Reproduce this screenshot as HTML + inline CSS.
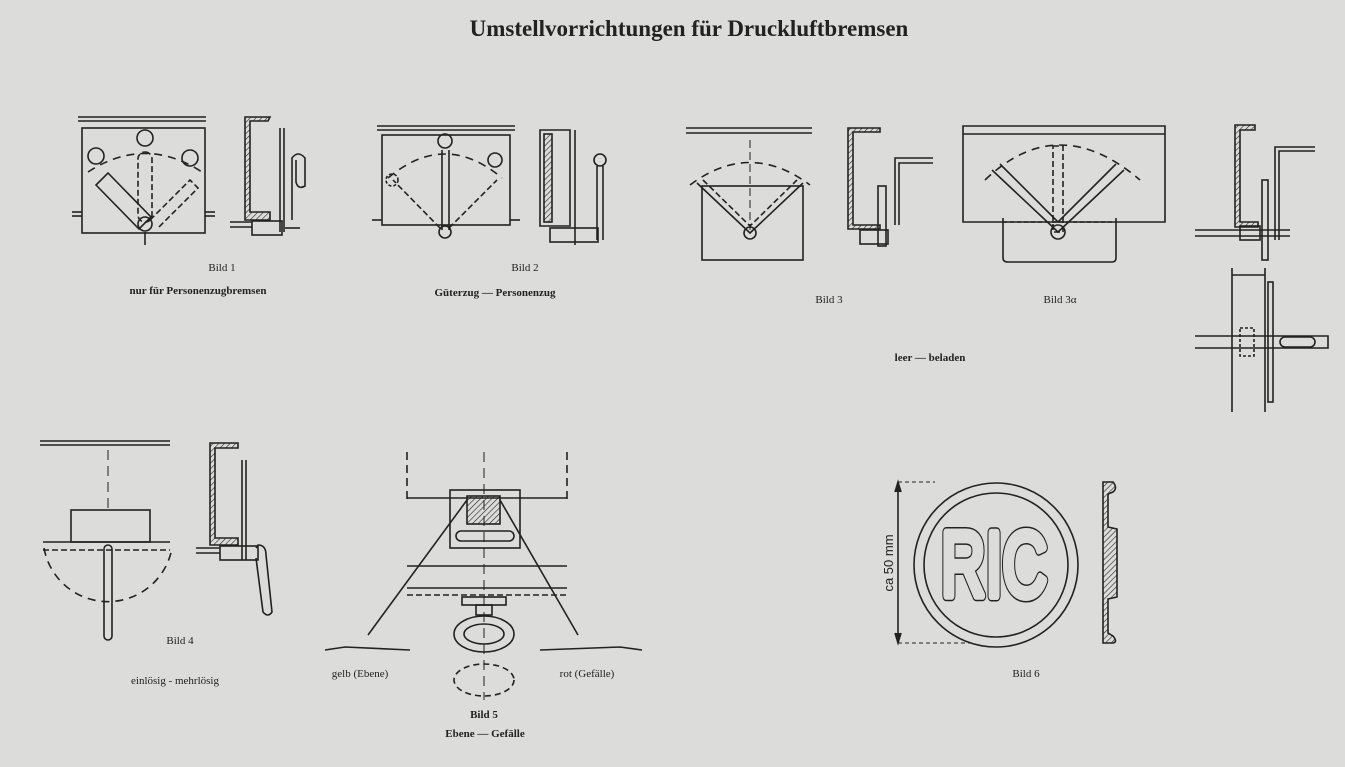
<!DOCTYPE html>
<html><head><meta charset="utf-8"><style>
html,body{margin:0;padding:0;background:#dcdcda;}
svg{display:block}
.t{font-family:"Liberation Serif",serif;fill:#222}
</style></head><body>
<svg width="1345" height="767" viewBox="0 0 1345 767" xmlns="http://www.w3.org/2000/svg">
<defs>
<pattern id="h" width="4" height="4" patternUnits="userSpaceOnUse" patternTransform="rotate(45)"><line x1="0" y1="0" x2="0" y2="4" stroke="#222" stroke-width="1.2"/></pattern>
</defs>
<rect width="1345" height="767" fill="#dcdcda"/>
<text x="689" y="36" text-anchor="middle" class="t" font-size="23" font-weight="bold">Umstellvorrichtungen für Druckluftbremsen</text>
<g stroke="#222" stroke-width="1.6" fill="none">
<!-- Bild 1 -->
<line x1="78" y1="117" x2="206" y2="117"/><line x1="78" y1="121" x2="206" y2="121"/>
<rect x="82" y="128" width="123" height="105"/>
<line x1="72" y1="212" x2="82" y2="212"/><line x1="72" y1="216" x2="82" y2="216"/>
<line x1="205" y1="212" x2="215" y2="212"/><line x1="205" y1="216" x2="215" y2="216"/>
<path d="M96 185 L139 229 L151 217 L108 173 Z"/>
<circle cx="145" cy="224" r="7"/><line x1="145" y1="232" x2="145" y2="245"/>
<rect x="138" y="152" width="14" height="70" rx="7" stroke-dasharray="6 3"/>
<path d="M150 220 L190 180 L198 188 L158 228" stroke-dasharray="6 3"/>
<path d="M88 172 Q145 135 202 172" stroke-dasharray="8 6"/>
<circle cx="96" cy="156" r="8"/><circle cx="145" cy="138" r="8"/><circle cx="190" cy="158" r="8"/>
<path d="M245 117 L270 117 L268 121 L250 121 L250 212 L270 212 L270 220 L245 220 Z" fill="url(#h)"/>
<line x1="280" y1="128" x2="280" y2="232"/><line x1="284" y1="128" x2="284" y2="232"/>
<path d="M292 220 L292 158 Q298 150 305 158 L305 186 Q298 190 296 182 L296 160"/>
<rect x="252" y="221" width="30" height="14"/>
<line x1="230" y1="222" x2="252" y2="222"/><line x1="230" y1="227" x2="252" y2="227"/>
<line x1="285" y1="228" x2="300" y2="228"/>
<!-- Bild 2 -->
<line x1="377" y1="126" x2="515" y2="126"/><line x1="377" y1="130" x2="515" y2="130"/>
<rect x="382" y="135" width="128" height="90"/>
<line x1="372" y1="220" x2="382" y2="220"/><line x1="510" y1="220" x2="520" y2="220"/>
<line x1="442" y1="150" x2="442" y2="230"/><line x1="449" y1="150" x2="449" y2="230"/>
<circle cx="445" cy="232" r="6"/><circle cx="445" cy="141" r="7"/>
<path d="M440 228 L393 180 M449 228 L497 180" stroke-dasharray="6 3"/>
<path d="M388 178 Q445 130 502 178" stroke-dasharray="8 6"/>
<circle cx="495" cy="160" r="7"/><circle cx="392" cy="180" r="6" stroke-dasharray="3 2"/>
<path d="M540 130 L570 130 L570 226 L540 226 Z"/><rect x="544" y="134" width="8" height="88" fill="url(#h)"/>
<line x1="575" y1="130" x2="575" y2="245"/>
<line x1="597" y1="166" x2="597" y2="240"/><line x1="603" y1="166" x2="603" y2="240"/>
<circle cx="600" cy="160" r="6"/>
<rect x="550" y="228" width="48" height="14"/>
<!-- Bild 3 -->
<line x1="686" y1="128" x2="812" y2="128"/><line x1="686" y1="133" x2="812" y2="133"/>
<rect x="702" y="186" width="101" height="74"/>
<path d="M697 183 L750 233 L803 183"/><path d="M703 180 L750 226 L797 180" stroke-dasharray="6 3"/>
<circle cx="750" cy="233" r="6"/>
<path d="M690 185 Q750 140 810 185" stroke-dasharray="8 6"/>
<line x1="750" y1="140" x2="750" y2="230" stroke-dasharray="8 4" stroke-width="1"/>
<path d="M848 128 L880 128 L880 132 L853 132 L853 225 L880 225 L880 229 L848 229 Z" fill="url(#h)"/>
<path d="M895 225 L895 158 L933 158 M899 225 L899 163 L933 163"/>
<rect x="878" y="186" width="8" height="60"/>
<rect x="860" y="230" width="28" height="14"/>
<!-- Bild 3a -->
<path d="M963 126 L1165 126 L1165 222 L963 222 Z"/>
<line x1="963" y1="134" x2="1165" y2="134"/>
<path d="M1003 218 L1003 258 Q1003 262 1008 262 L1112 262 Q1116 262 1116 258 L1116 218"/>
<line x1="1003" y1="222" x2="1116" y2="222" stroke-dasharray="4 3"/>
<path d="M992 170 L1058 232 L1124 170 M1000 164 L1058 222 L1116 164"/>
<circle cx="1058" cy="232" r="7"/>
<path d="M985 180 Q1058 110 1140 180" stroke-dasharray="8 6"/>
<rect x="1053" y="146" width="10" height="86" stroke-dasharray="6 3"/>
<path d="M1235 125 L1255 125 L1255 130 L1240 130 L1240 222 L1258 222 L1258 227 L1235 227 Z" fill="url(#h)"/>
<path d="M1275 240 L1275 147 L1315 147 M1279 240 L1279 151 L1315 151"/>
<rect x="1262" y="180" width="6" height="80"/>
<path d="M1195 230 L1290 230 M1195 236 L1290 236"/><rect x="1240" y="226" width="20" height="14"/>
<path d="M1232 268 L1232 412 M1265 268 L1265 412"/><line x1="1232" y1="275" x2="1265" y2="275"/>
<rect x="1268" y="282" width="5" height="120"/>
<path d="M1195 336 L1328 336 L1328 348 L1195 348"/><rect x="1240" y="328" width="14" height="28" stroke-dasharray="3 2"/>
<rect x="1280" y="337" width="35" height="10" rx="5"/>
<!-- Bild 4 -->
<line x1="40" y1="441" x2="170" y2="441"/><line x1="40" y1="445" x2="170" y2="445"/>
<line x1="108" y1="450" x2="108" y2="510" stroke-dasharray="10 6" stroke-width="1"/>
<rect x="71" y="510" width="79" height="32"/>
<line x1="43" y1="542" x2="170" y2="542"/><line x1="43" y1="550" x2="170" y2="550" stroke-dasharray="6 3"/>
<path d="M44 548 A65 65 0 0 0 172 548" stroke-dasharray="8 6"/>
<rect x="104" y="545" width="8" height="95" rx="4"/>
<path d="M210 443 L238 443 L238 448 L215 448 L215 538 L238 538 L238 545 L210 545 Z" fill="url(#h)"/>
<line x1="242" y1="460" x2="242" y2="560"/><line x1="246" y1="460" x2="246" y2="560"/>
<rect x="220" y="546" width="38" height="14"/>
<path d="M256 548 L258 545 Q266 545 266 555 L272 612 Q268 618 263 612 L256 558"/>
<line x1="196" y1="548" x2="220" y2="548"/><line x1="196" y1="553" x2="220" y2="553"/>
<!-- Bild 5 -->
<line x1="407" y1="452" x2="407" y2="500" stroke-dasharray="8 5"/><line x1="567" y1="452" x2="567" y2="500" stroke-dasharray="8 5"/>
<line x1="484" y1="452" x2="484" y2="700" stroke-dasharray="10 6" stroke-width="1"/>
<line x1="407" y1="498" x2="567" y2="498"/>
<rect x="450" y="490" width="70" height="58"/>
<rect x="467" y="496" width="33" height="28" fill="url(#h)"/>
<rect x="456" y="531" width="58" height="10" rx="5"/>
<line x1="368" y1="635" x2="467" y2="500"/><line x1="578" y1="635" x2="500" y2="500"/>
<line x1="407" y1="566" x2="567" y2="566"/><line x1="407" y1="588" x2="567" y2="588"/><line x1="407" y1="595" x2="567" y2="595" stroke-dasharray="6 3"/>
<rect x="462" y="597" width="44" height="8"/><rect x="476" y="605" width="16" height="10"/>
<ellipse cx="484" cy="634" rx="30" ry="18"/><ellipse cx="484" cy="634" rx="20" ry="10"/>
<ellipse cx="484" cy="680" rx="30" ry="16" stroke-dasharray="6 4"/>
<path d="M325 650 L345 647 L410 650 M540 650 L620 647 L642 650"/>
<!-- Bild 6 -->
<circle cx="996" cy="565" r="82"/><circle cx="996" cy="565" r="72"/>
<path d="M898 482 L935 482 M898 643 L970 643" stroke-dasharray="4 3" stroke-width="1"/>
<line x1="898" y1="484" x2="898" y2="641"/>
<path d="M895 492 L898 482 L901 492 M895 633 L898 643 L901 633" fill="#222"/>
<path d="M1103 482 L1113 482 Q1118 488 1113 492 L1108 494 L1108 527 L1117 529 L1117 597 L1108 599 L1108 633 L1113 636 Q1118 642 1113 643 L1103 643 Z" fill="url(#h)"/>
</g>
<text x="941" y="596" textLength="106" lengthAdjust="spacingAndGlyphs" font-family="Liberation Sans,sans-serif" font-size="92" fill="#222" stroke="#222" stroke-width="11" stroke-linejoin="round">RIC</text>
<text x="941" y="596" textLength="106" lengthAdjust="spacingAndGlyphs" font-family="Liberation Sans,sans-serif" font-size="92" fill="#dcdcda" stroke="#dcdcda" stroke-width="8" stroke-linejoin="round">RIC</text>
<text transform="translate(893,563) rotate(-90)" text-anchor="middle" font-family="Liberation Sans,sans-serif" font-size="13" fill="#222">ca 50 mm</text>
<g class="t" font-size="11" text-anchor="middle">
<text x="222" y="271">Bild 1</text>
<text x="198" y="294" font-weight="bold">nur für Personenzugbremsen</text>
<text x="525" y="271">Bild 2</text>
<text x="495" y="296" font-weight="bold">Güterzug — Personenzug</text>
<text x="829" y="303">Bild 3</text>
<text x="1060" y="303">Bild 3α</text>
<text x="930" y="361" font-weight="bold">leer — beladen</text>
<text x="180" y="644">Bild 4</text>
<text x="175" y="684">einlösig - mehrlösig</text>
<text x="360" y="677">gelb (Ebene)</text>
<text x="587" y="677">rot (Gefälle)</text>
<text x="484" y="718" font-weight="bold">Bild 5</text>
<text x="485" y="737" font-weight="bold">Ebene — Gefälle</text>
<text x="1026" y="677">Bild 6</text>
</g>
</svg>
</body></html>
